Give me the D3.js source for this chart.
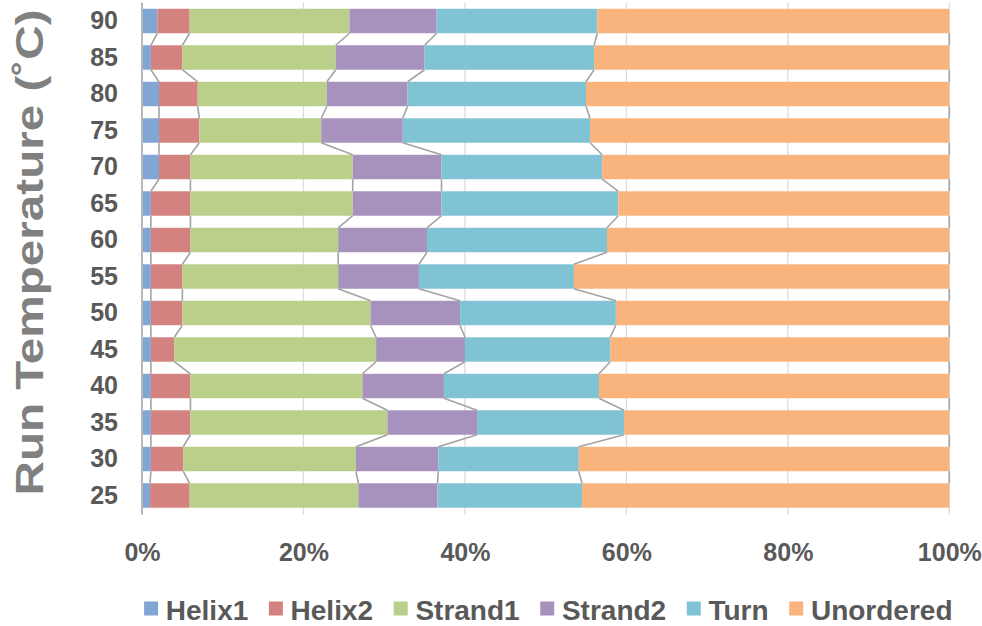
<!DOCTYPE html>
<html>
<head>
<meta charset="utf-8">
<script src="https://cdn.jsdelivr.net/npm/d3@7"></script>
<style>
  html, body { margin: 0; padding: 0; background: #fff; }
  svg { display: block; font-family: "Liberation Sans", Arial, sans-serif; }
</style>
</head>
<body>
<svg id="chart" width="982" height="626"></svg>
<script>
// Secondary-structure composition by run temperature (percent of residues)
const temperatures = [25, 30, 35, 40, 45, 50, 55, 60, 65, 70, 75, 80, 85, 90];
const helix1    = [1.0, 1.1, 1.1, 1.1, 1.1, 1.1, 1.1, 1.1, 1.1, 2.1, 2.1, 2.1, 1.1, 1.9];
const helix2    = [4.9, 4.0, 4.9, 4.9, 2.9, 3.9, 3.9, 4.9, 4.9, 3.9, 5.0, 4.8, 3.9, 4.0];
const strand1   = [20.9, 21.4, 24.4, 21.3, 25.0, 23.3, 19.3, 18.3, 20.1, 20.1, 15.1, 16.0, 19.0, 19.8];
const strand2   = [9.8, 10.2, 11.1, 10.1, 11.0, 11.1, 10.0, 11.0, 11.0, 11.0, 10.1, 10.0, 11.0, 10.8];
const turn      = [17.9, 17.4, 18.2, 19.2, 18.0, 19.3, 19.2, 22.3, 21.9, 19.9, 23.2, 22.1, 21.0, 19.9];
const unordered = [45.5, 45.9, 40.3, 43.4, 42.0, 41.3, 46.5, 42.4, 41.0, 43.0, 44.5, 45.0, 44.0, 43.6];

const seriesNames = ["Helix1", "Helix2", "Strand1", "Strand2", "Turn", "Unordered"];
const seriesColors = ["#80a6d3", "#d4827f", "#b9cf8a", "#a692bd", "#80c3d4", "#f9b47e"];
const xTicks = [0, 0.2, 0.4, 0.6, 0.8, 1.0];

const seriesValues = [helix1, helix2, strand1, strand2, turn, unordered];
const rows = temperatures.map((t, i) => {
  const r = { temp: t };
  seriesNames.forEach((n, k) => { r[n] = seriesValues[k][i]; });
  return r;
});

const svg = d3.select("#chart");
const plot = { left: 142, right: 949.3, top: 2.75, bottom: 513.75 };

const x = d3.scaleLinear().domain([0, 1]).range([plot.left, plot.right]);
// highest temperature at the top
const y = d3.scaleBand()
  .domain(temperatures.slice().reverse())
  .range([plot.top, plot.bottom])
  .paddingInner(0.33)
  .paddingOuter(0.165);

const stacked = d3.stack().keys(seriesNames).offset(d3.stackOffsetExpand)(rows);

// vertical gridlines
svg.append("g")
  .selectAll("line")
  .data(xTicks.filter(t => t > 0))
  .join("line")
  .attr("x1", d => x(d)).attr("x2", d => x(d))
  .attr("y1", plot.top).attr("y2", plot.bottom + 1)
  .attr("stroke", "#dcdcdc").attr("stroke-width", 1.3);

// stacked bars
svg.append("g")
  .selectAll("g")
  .data(stacked)
  .join("g")
  .attr("fill", (d, i) => seriesColors[i])
  .selectAll("rect")
  .data(d => d)
  .join("rect")
  .attr("x", d => x(d[0]))
  .attr("width", d => x(d[1]) - x(d[0]))
  .attr("y", d => y(d.data.temp))
  .attr("height", y.bandwidth());

// series lines joining the segment ends of neighbouring bars
const order = temperatures.slice().reverse();
const lineGroup = svg.append("g")
  .attr("fill", "none")
  .attr("stroke", "#a3a3a3")
  .attr("stroke-width", 1.6);
stacked.forEach(layer => {
  const byTemp = new Map(layer.map(d => [d.data.temp, d[1]]));
  for (let i = 0; i < order.length - 1; i++) {
    const a = order[i], b = order[i + 1];
    lineGroup.append("line")
      .attr("x1", x(byTemp.get(a)))
      .attr("y1", y(a) + y.bandwidth())
      .attr("x2", x(byTemp.get(b)))
      .attr("y2", y(b));
  }
});

// category axis line
svg.append("line")
  .attr("x1", plot.left).attr("x2", plot.left)
  .attr("y1", plot.top).attr("y2", plot.bottom + 1)
  .attr("stroke", "#b8b8b8").attr("stroke-width", 2);

// category labels
const yAxis = d3.axisLeft(y).tickSize(0).tickPadding(24);
const yg = svg.append("g").attr("transform", `translate(${plot.left},0)`).call(yAxis);
yg.select(".domain").remove();
yg.selectAll("text")
  .attr("font-size", 25).attr("font-weight", "bold")
  .attr("fill", "#595959")
  .attr("font-family", "Liberation Sans, Arial, sans-serif");

// percentage labels
const xAxis = d3.axisBottom(x).tickValues(xTicks).tickFormat(d3.format(".0%")).tickSize(0).tickPadding(0);
const xg = svg.append("g").attr("transform", "translate(0,542)").call(xAxis);
xg.select(".domain").remove();
xg.selectAll("text")
  .attr("dy", "0.75em")
  .attr("font-size", 25).attr("font-weight", "bold")
  .attr("fill", "#595959")
  .attr("font-family", "Liberation Sans, Arial, sans-serif");

// axis title
svg.append("text")
  .attr("transform", "translate(43,252.5) rotate(-90)")
  .attr("text-anchor", "middle")
  .attr("font-size", 39).attr("font-weight", "bold")
  .attr("fill", "#808080")
  .attr("textLength", 486)
  .attr("lengthAdjust", "spacingAndGlyphs")
  .text("Run Temperature (˚C)");

// legend
const legend = svg.append("g");
const items = legend.selectAll("g").data(seriesNames).join("g");
items.append("rect")
  .attr("width", 14).attr("height", 14)
  .attr("y", 601.5)
  .attr("fill", (d, i) => seriesColors[i]);
items.append("text")
  .attr("x", 21.7).attr("y", 620)
  .attr("font-size", 28).attr("font-weight", "bold")
  .attr("fill", "#595959")
  .text(d => d);
let cursor = 0;
const positions = [];
items.each(function () {
  const w = d3.select(this).select("text").node().getComputedTextLength();
  positions.push(cursor);
  cursor += 21.7 + w + 20.6;
});
const total = cursor - 20.6;
const start = 548.3 - total / 2;
items.attr("transform", (d, i) => `translate(${start + positions[i]},0)`);
</script>
</body>
</html>
